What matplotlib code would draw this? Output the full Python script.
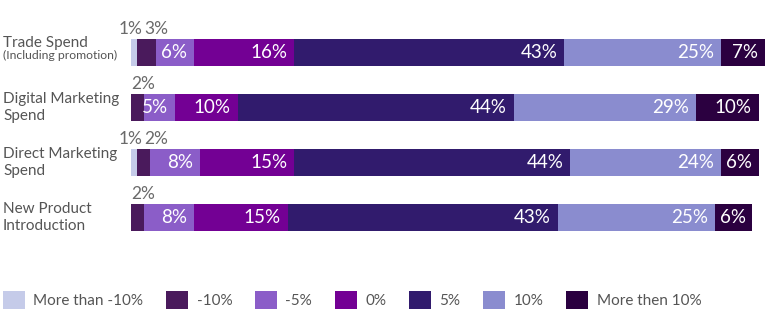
import numpy as np
from matplotlib import pyplot as plt
from matplotlib.patches import Patch

plt.rcParams["font.family"] = ["Lato", "DejaVu Sans"]

categories = ["Trade Spend", "Digital Marketing\nSpend", "Direct Marketing\nSpend", "New Product\nIntroduction"]
series = ["More than -10%", "-10%", "-5%", "0%", "5%", "10%", "More then 10%"]
more_than_minus10 = [1, 0, 1, 0]
minus10 = [3, 2, 2, 2]
minus5 = [6, 5, 8, 8]
zero = [16, 10, 15, 15]
plus5 = [43, 44, 44, 43]
plus10 = [25, 29, 24, 25]
more_than_10 = [7, 10, 6, 6]
colors = ["#c5cbe9", "#4a1a5c", "#8b5dc8", "#730094", "#311b6d", "#8a8ccf", "#2b0040"]

data = np.array([more_than_minus10, minus10, minus5, zero, plus5, plus10, more_than_10])

fig = plt.figure(figsize=(7.69, 3.24), dpi=100)
ax = fig.add_axes([131 / 769, 79 / 324, 634 / 769, 220 / 324])

y = np.arange(len(categories))
left = np.zeros(len(categories))
for i, name in enumerate(series):
    vals = data[i]
    ax.barh(y, vals, left=left, height=0.49, color=colors[i], edgecolor="none", label=name)
    for j in range(len(categories)):
        v = vals[j]
        if v == 0:
            continue
        if v >= 5:
            # label inside, right aligned
            ax.annotate(f"{v}%", (left[j] + v, y[j]), xytext=(-5, 0), textcoords="offset points",
                        ha="right", va="center", color="white", fontsize=13.5)
        else:
            # small values above the bar
            if i == 0:
                x, ha = left[j] + 1.9, "right"
            elif data[0][j] > 0:
                x, ha = left[j] + 1.1, "left"
            else:
                x, ha = left[j], "left"
            ax.text(x, y[j] - 0.29, f"{v}%", ha=ha, va="bottom", color="#6a6a6a", fontsize=12.5)
    left += vals

ax.set_xlim(0, 101)
ax.set_ylim(3.5, -0.5)
ax.axis("off")

# category labels on the left
for j, cat in enumerate(categories):
    yc = 1 - (25 + 55 * j + 27.5) / 324
    if j == 0:
        fig.text(3 / 769, yc + 0.008, cat, ha="left", va="bottom", fontsize=11, color="#555555")
        fig.text(3 / 769, yc + 0.008, "(Including promotion)", ha="left", va="top", fontsize=8.8, color="#555555")
    else:
        fig.text(3 / 769, yc, cat, ha="left", va="center", fontsize=11, color="#555555", linespacing=1.3)

handles = [Patch(facecolor=c, edgecolor="none") for c in colors]
fig.legend(handles, series, loc="center left", bbox_to_anchor=(2.7 / 769, 1 - 300 / 324),
           ncol=7, frameon=False, fontsize=11, borderpad=0, borderaxespad=0,
           handlelength=1.44, handleheight=1.45, handletextpad=0.57, columnspacing=1.47,
           labelcolor="#555555")

plt.savefig("out.png", dpi=100)
